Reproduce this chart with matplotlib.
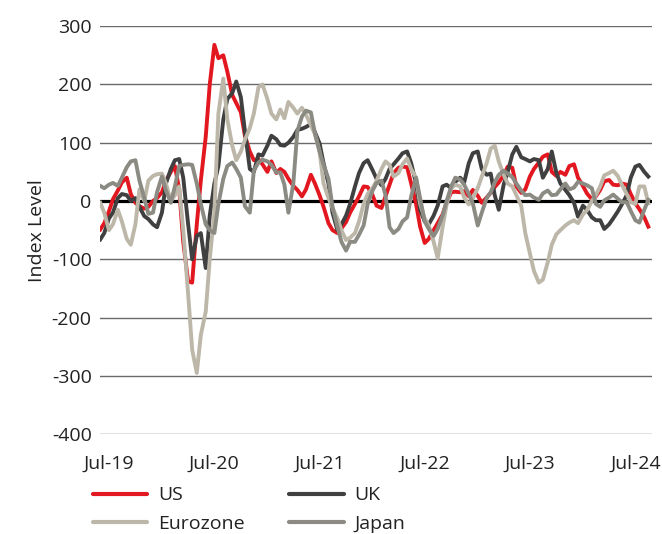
import matplotlib
matplotlib.use("Agg")
import matplotlib.pyplot as plt
import pandas as pd

plt.rcParams['font.family'] = ['Open Sans', 'DejaVu Sans']
plt.rcParams['axes.unicode_minus'] = False

# Semi-monthly observation dates (1st and 15th), Jun-2019 .. Aug-2024
dates = pd.date_range('2019-06-01', periods=126, freq='SMS')

us = [-49, -38, -18, 3, 18, 32, 40, 12, -3, -9,
      -13, -10, 0, 5, 15, 35, 50, 60, 20, -70,
      -138, -140, -40, 35, 110, 200, 268, 245, 250, 222,
      182, 168, 152, 112, 85, 70, 72, 63, 50, 68,
      48, 55, 50, 38, 26, 19, 8, 20, 45, 30,
      10, -10, -38, -50, -55, -47, -36, -20, -5, 8,
      25, 24, 10, -8, -12, 8, 28, 48, 57, 59,
      58, 30, -5, -44, -72, -65, -50, -38, -23, -3,
      15, 16, 15, 17, 8, 19, 9, -3, 6, 14,
      24, 32, 44, 59, 57, 25, 14, 20, 42, 55,
      66, 76, 80, 50, 43, 50, 45, 60, 63, 40,
      26, 13, 3, 8, 19, 34, 36, 28, 27, 30,
      28, 12, -4, -14, -28, -44]

uk = [-66, -55, -30, -20, 5, 12, 10, 0, 5, -10,
      -26, -31, -40, -45, -20, 30, 55, 70, 72, 40,
      -40, -100, -60, -55, -115, -25, 30, 60, 140, 175,
      185, 205, 178, 120, 55, 50, 80, 78, 95, 112,
      106, 96, 95, 100, 110, 122, 124, 127, 132, 118,
      99, 65, 30, -20, -50, -40, -25, -5, 25, 48,
      65, 70, 53, 38, 27, 38, 55, 63, 73, 82,
      85, 65, 30, -15, -35, -40, -25, -8, 25, 28,
      22, 33, 40, 32, 65, 82, 85, 55, 45, 47,
      10, -15, 28, 50, 80, 93, 75, 72, 68, 72,
      70, 40, 55, 85, 48, 30, 19, 10, -3, -27,
      -8, -15, -28, -33, -33, -48, -40, -30, -18, -6,
      10, 40, 59, 62, 50, 42]

eurozone = [-3, -20, -50, -40, -15, -35, -65, -75, -40, 20,
            0, 35, 43, 46, 47, 30, 0, 10, 25, -50,
            -160, -255, -295, -230, -190, -100, -20, 150, 210, 140,
            95, 70, 85, 105, 125, 150, 195, 200, 175, 150,
            140, 157, 142, 170, 160, 150, 160, 148, 130, 115,
            85, 30, 5, -12, -30, -50, -67, -63, -55, -35,
            -5, 12, 22, 35, 55, 68, 62, 42, 48, 63,
            73, 55, 40, -5, -30, -42, -70, -98, -45, -6,
            22, 28, 25, 6, -6, 5, 22, 42, 65, 90,
            95, 68, 45, 30, 25, 10, -8, -55, -90, -120,
            -140, -135, -105, -75, -57, -50, -42, -37, -33, -38,
            -23, -16, 0, 10, 25, 44, 48, 52, 43, 28,
            12, -2, -5, 25, 25, -4]

japan = [26, 22, 28, 31, 26, 40, 58, 68, 70, 35,
         5, -22, -20, 15, 42, 18, -3, 25, 60, 62,
         63, 62, 30, -5, -40, -50, -55, -5, 38, 60,
         66, 55, 40, -9, -20, 52, 66, 71, 68, 62,
         49, 49, 28, -20, 30, 120, 145, 155, 152, 116,
         85, 62, 38, -10, -44, -70, -85, -70, -70, -58,
         -42, -5, 18, 31, 35, 10, -45, -55, -48, -35,
         -28, 8, 40, 5, -35, -48, -60, -48, -25, 0,
         25, 40, 37, 28, 12, -4, -42, -20, 5, 15,
         32, 45, 52, 47, 41, 30, 18, 10, 11, 6,
         2, 13, 18, 10, 11, 20, 30, 20, 23, 33,
         30, 27, 22, -5, -10, 1, 6, 11, 4, -2,
         -2, -17, -33, -37, -15, 2]

series_names = ['US', 'UK', 'Eurozone', 'Japan']
series_values = [us, uk, eurozone, japan]
series_colors = ['#E2171F', '#404040', '#BCB7A8', '#8B8B83']

y_ticks = [-400, -300, -200, -100, 0, 100, 200, 300]
y_tick_labels = ['-400', '-300', '-200', '-100', '0', '100', '200', '300']
x_tick_dates = pd.to_datetime(['2019-07-01', '2020-07-01', '2021-07-01',
                               '2022-07-01', '2023-07-01', '2024-07-01'])
x_tick_labels = ['Jul-19', 'Jul-20', 'Jul-21', 'Jul-22', 'Jul-23', 'Jul-24']

fig = plt.figure(figsize=(6.62, 5.34), dpi=100)
ax = fig.add_axes([0.151, 0.187, 0.834, 0.764])

for yv in y_ticks:
    if yv == 0:
        continue
    ax.axhline(yv, color='#6a6a6a', lw=1.0, zorder=1)
ax.axhline(0, color='#000000', lw=2.3, zorder=2)

lines = {}
for name, vals, col in zip(series_names, series_values, series_colors):
    ln, = ax.plot(dates, vals, color=col, lw=2.8, label=name, zorder=3,
                  solid_joinstyle='round')
    lines[name] = ln

ax.set_ylim(-400, 300)
ax.set_xlim(pd.Timestamp('2019-05-31'), pd.Timestamp('2024-08-28'))
ax.set_yticks(y_ticks)
ax.set_yticklabels(y_tick_labels)
ax.set_xticks(x_tick_dates)
ax.set_xticklabels(x_tick_labels)
ax.tick_params(axis='both', length=0, labelsize=14, colors='#222222')
ax.tick_params(axis='y', pad=6)
ax.tick_params(axis='x', pad=15)
for s in ax.spines.values():
    s.set_visible(False)
ax.set_ylabel('Index Level', fontsize=14, color='#222222', labelpad=4)

order = ['US', 'Eurozone', 'UK', 'Japan']
leg = fig.legend([lines[n] for n in order], order, ncol=2, loc='upper left',
                 bbox_to_anchor=(0.1405, 0.089), frameon=False, fontsize=14,
                 handlelength=2.8, handletextpad=0.55, columnspacing=2.3,
                 labelspacing=0.52, borderaxespad=0, borderpad=0)
for h in leg.legend_handles:
    h.set_linewidth(3.0)
    h.set_solid_capstyle('round')
for t in leg.get_texts():
    t.set_color('#222222')

fig.savefig('out.png', dpi=100)
